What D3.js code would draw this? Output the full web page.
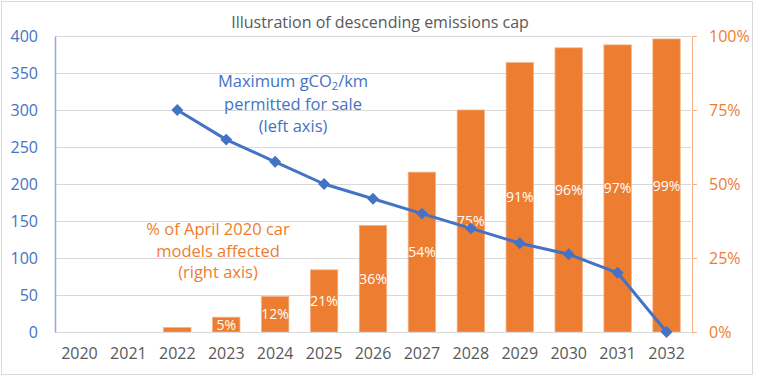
<html>
<head>
<script src="https://cdn.jsdelivr.net/npm/d3@7"></script>
<style>
  body { margin: 0; background: #fff; }
  text { font-family: "Open Sans", "Liberation Sans", sans-serif; }
</style>
</head>
<body>
<div id="chart"></div>
<script>
var years = ["2020", "2021", "2022", "2023", "2024", "2025", "2026", "2027", "2028", "2029", "2030", "2031", "2032"];
// max gCO2/km permitted (left axis)
var capValues = [null, null, 300, 260, 230, 200, 180, 160, 140, 120, 105, 80, 0];
// % of April 2020 car models affected (right axis)
var sharePct = [0, 0, 1.5, 5, 12, 21, 36, 54, 75, 91, 96, 97, 99];
var shareLabels = ["", "", "", "5%", "12%", "21%", "36%", "54%", "75%", "91%", "96%", "97%", "99%"];
var leftTicks = [0, 50, 100, 150, 200, 250, 300, 350, 400];
var rightTicks = [0, 25, 50, 75, 100];

var width = 759, height = 377;
var margin = {top: 36, right: 68, bottom: 45, left: 55};
var blue = "#4472C4", orange = "#ED7D31", grey = "#595959";
var font = "Open Sans, Liberation Sans, sans-serif";

var svg = d3.select("#chart").append("svg")
    .attr("width", width)
    .attr("height", height);

// outer border
svg.append("rect")
    .attr("x", 1.5).attr("y", 1.5)
    .attr("width", 751).attr("height", 373)
    .attr("fill", "#fff")
    .attr("stroke", "#D9D9D9");

var x = d3.scaleBand()
    .domain(years)
    .range([margin.left, width - margin.right])
    .paddingInner(0.44)
    .paddingOuter(0.22);

var yL = d3.scaleLinear().domain([0, 400]).range([height - margin.bottom, margin.top]);
var yR = d3.scaleLinear().domain([0, 100]).range([height - margin.bottom, margin.top]);

// gridlines
svg.append("g")
    .selectAll("line")
    .data(leftTicks)
    .enter().append("line")
    .attr("x1", margin.left).attr("x2", width - margin.right)
    .attr("y1", d => yL(d) + 0.5).attr("y2", d => yL(d) + 0.5)
    .attr("stroke", "#D9D9D9");

// title
svg.append("text")
    .attr("x", 380).attr("y", 28)
    .attr("text-anchor", "middle")
    .attr("font-size", 16)
    .attr("fill", grey)
    .text("Illustration of descending emissions cap");

// bars
var data = years.map((y, i) => ({year: y, pct: sharePct[i], label: shareLabels[i], cap: capValues[i]}));

svg.append("g")
    .selectAll("rect")
    .data(data)
    .enter().append("rect")
    .attr("x", d => x(d.year))
    .attr("y", d => yR(d.pct))
    .attr("width", x.bandwidth())
    .attr("height", d => yR(0) - yR(d.pct))
    .attr("fill", orange)
    .attr("stroke", "#F4B183")
    .attr("stroke-width", 0.75);

svg.append("g")
    .selectAll("text")
    .data(data.filter(d => d.label))
    .enter().append("text")
    .attr("x", d => x(d.year) + x.bandwidth() / 2)
    .attr("y", d => (yR(d.pct) + yR(0)) / 2)
    .attr("dy", "0.36em")
    .attr("text-anchor", "middle")
    .attr("font-size", 14)
    .attr("fill", "#fff")
    .text(d => d.label);

// left axis
var gL = svg.append("g")
    .attr("transform", `translate(${margin.left},0)`)
    .call(d3.axisLeft(yL).tickValues(leftTicks).tickSize(0).tickPadding(17));
gL.select(".domain").attr("stroke", "#8FAADC").attr("stroke-width", 1.5);
gL.selectAll("text").attr("font-size", 16).attr("fill", blue).attr("font-family", font);

// right axis
var gR = svg.append("g")
    .attr("transform", `translate(${width - margin.right + 1},0)`)
    .call(d3.axisRight(yR).tickValues(rightTicks).tickSize(5).tickSizeOuter(5).tickPadding(12).tickFormat(d => d + "%"));
gR.select(".domain").attr("stroke", "#F4B183");
gR.selectAll("line").attr("stroke", "#F4B183");
gR.selectAll("text").attr("font-size", 16).attr("fill", orange).attr("font-family", font);

// x axis labels
var gX = svg.append("g")
    .attr("transform", `translate(0,${height - margin.bottom})`)
    .call(d3.axisBottom(x).tickSize(0).tickPadding(16));
gX.select(".domain").attr("stroke", "#D9D9D9");
gX.selectAll("text").attr("font-size", 16).attr("fill", grey).attr("font-family", font);

// emissions line
var lineData = data.filter(d => d.cap !== null);
var line = d3.line()
    .x(d => x(d.year) + x.bandwidth() / 2)
    .y(d => yL(d.cap));

svg.append("path")
    .datum(lineData)
    .attr("d", line)
    .attr("fill", "none")
    .attr("stroke", blue)
    .attr("stroke-width", 3)
    .attr("stroke-linejoin", "round");

svg.append("g")
    .selectAll("path")
    .data(lineData)
    .enter().append("path")
    .attr("d", d3.symbol().type(d3.symbolDiamond2).size(90))
    .attr("transform", d => `translate(${x(d.year) + x.bandwidth() / 2},${yL(d.cap)})`)
    .attr("fill", blue);

// annotations
var blueNote = svg.append("text")
    .attr("text-anchor", "middle")
    .attr("font-size", 16.5)
    .attr("fill", blue);
var t1 = blueNote.append("tspan").attr("x", 293).attr("y", 87);
t1.append("tspan").text("Maximum gCO");
t1.append("tspan").attr("font-size", 11).attr("dy", 3).text("2");
t1.append("tspan").attr("dy", -3).text("/km");
blueNote.append("tspan").attr("x", 293).attr("y", 109.5).text("permitted for sale");
blueNote.append("tspan").attr("x", 293).attr("y", 132).text("(left axis)");

var orangeNote = svg.append("text")
    .attr("text-anchor", "middle")
    .attr("font-size", 16.5)
    .attr("fill", orange);
["% of April 2020 car", "models affected", "(right axis)"].forEach(function(s, i) {
    orangeNote.append("tspan").attr("x", 218).attr("y", 235 + i * 21.5).text(s);
});
</script>
</body>
</html>
